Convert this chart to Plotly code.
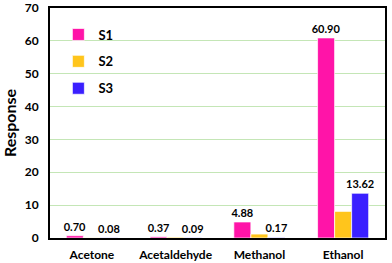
import plotly.graph_objects as go

categories = ["Acetone", "Acetaldehyde", "Methanol", "Ethanol"]
s1 = [0.70, 0.37, 4.88, 60.90]
s2 = [0.06, 0.25, 1.2, 8.1]
s3 = [0.08, 0.09, 0.17, 13.62]
s1_labels = ["0.70", "0.37", "4.88", "60.90"]
s3_labels = ["0.08", "0.09", "0.17", "13.62"]
y_ticks = [0, 10, 20, 30, 40, 50, 60, 70]

FONT = "Lato"
lab_font = dict(family=FONT, size=11, color="black", weight="bold")

fig = go.Figure()
fig.add_trace(go.Bar(name="S1", x=categories, y=s1, text=s1_labels,
                     textposition="outside", textfont=lab_font, constraintext="none",
                     marker=dict(color="#FF14A8", line=dict(color="rgba(255,255,255,0.7)", width=1)),
                     legendgroup="a", cliponaxis=False))
fig.add_trace(go.Bar(name="S2", x=categories, y=s2,
                     marker=dict(color="#FFC51C", line=dict(color="rgba(255,255,255,0.7)", width=1)),
                     legendgroup="b", cliponaxis=False))
fig.add_trace(go.Bar(name="S3", x=categories, y=s3, text=s3_labels,
                     textposition="outside", textfont=lab_font, constraintext="none",
                     marker=dict(color="#3A1FFF", line=dict(color="rgba(255,255,255,0.7)", width=1)),
                     legendgroup="c", cliponaxis=False))

fig.update_layout(
    width=392, height=263,
    margin=dict(l=50, r=7, t=8, b=25, autoexpand=False),
    paper_bgcolor="white", plot_bgcolor="white",
    barmode="group", bargap=0.39, bargroupgap=0,
    font=dict(family=FONT, color="black"),
    showlegend=True,
    legend=dict(x=0.025, y=0.95, xanchor="left", yanchor="top",
                bgcolor="rgba(0,0,0,0)", tracegroupgap=7,
                font=dict(family=FONT, size=13, color="black", weight="bold"),
                itemwidth=30),
    xaxis=dict(showline=True, linecolor="black", linewidth=2, mirror=True, automargin=False,
               ticks="", ticklabelstandoff=5,
               tickfont=dict(family=FONT, size=12, color="black", weight="bold")),
    yaxis=dict(range=[0, 70], tickmode="array", tickvals=y_ticks, showline=True, linecolor="black",
               linewidth=2, mirror=True, ticks="", ticklabelstandoff=7, automargin=False,
               ticklabeloverflow="allow",
               showgrid=True, gridcolor="#C4E6B6", gridwidth=1,
               tickfont=dict(family=FONT, size=12, color="black", weight="bold"),
               title=dict(text="Response", standoff=10,
                          font=dict(family=FONT, size=16, color="black", weight="bold"))),
)
fig.write_html("out.html", config={"displayModeBar": False},
               post_script="document.body.style.margin='0';document.body.style.overflow='hidden';")
